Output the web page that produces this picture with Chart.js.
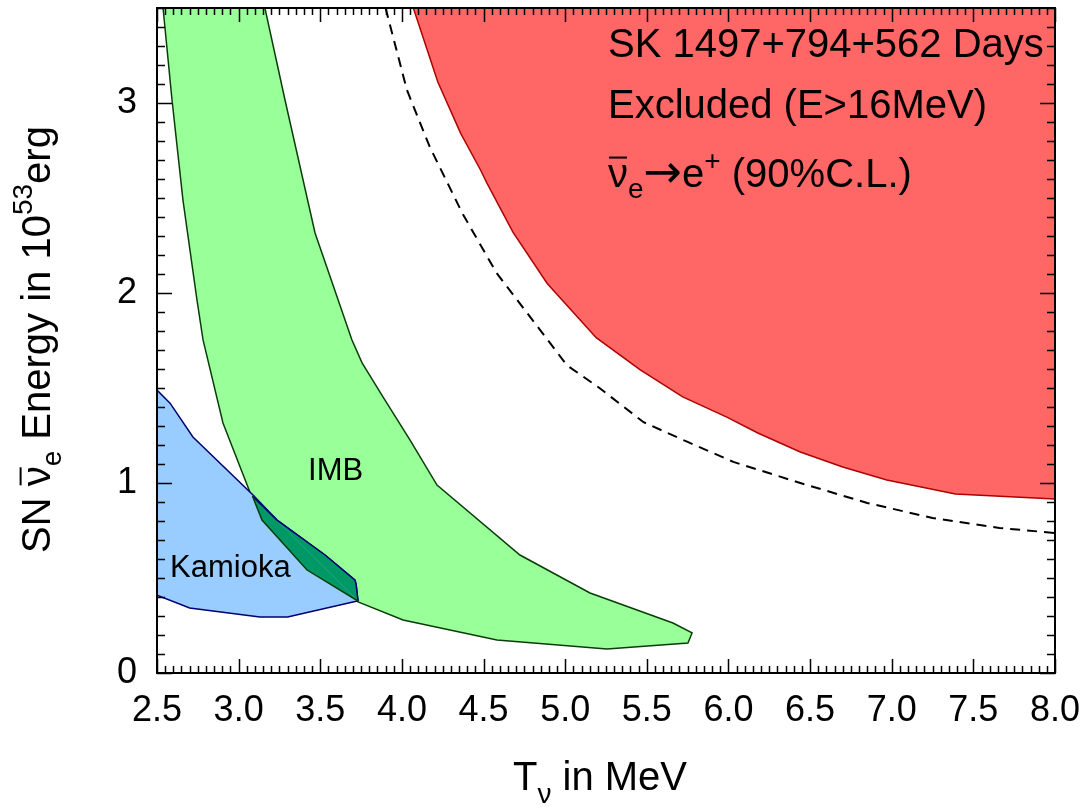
<!DOCTYPE html>
<html>
<head>
<meta charset="utf-8">
<script src="https://cdn.jsdelivr.net/npm/chart.js@4.4.1/dist/chart.umd.min.js"></script>
<style>
  html, body { margin: 0; padding: 0; background: #fff; }
  canvas { display: block; }
</style>
</head>
<body>
<canvas id="chart" width="1086" height="810"></canvas>
<script>
const FONT = "'Liberation Sans', Arial, Helvetica, sans-serif";

// tick labels
const xTicks = [2.5, 3.0, 3.5, 4.0, 4.5, 5.0, 5.5, 6.0, 6.5, 7.0, 7.5, 8.0];
const yTicks = [0, 1, 2, 3];

// SK excluded region boundary (filled up to the top)
const skT = [4.07, 4.22, 4.36, 4.48, 4.52, 4.68, 4.89, 5.19, 5.46, 5.72, 5.99, 6.18, 6.44, 6.70, 6.97, 7.39, 8.0];
const skE = [3.50, 3.11, 2.84, 2.65, 2.58, 2.32, 2.05, 1.765, 1.595, 1.453, 1.347, 1.263, 1.163, 1.084, 1.016, 0.942, 0.916];

// dashed curve
const dashT = [3.90, 4.03, 4.17, 4.37, 4.58, 4.86, 5.01, 5.21, 5.48, 5.75, 6.03, 6.44, 6.85, 7.25, 7.66, 8.0];
const dashE = [3.50, 3.07, 2.77, 2.42, 2.105, 1.79, 1.62, 1.50, 1.32, 1.216, 1.111, 1.0, 0.895, 0.816, 0.763, 0.737];

// IMB contour (closed)
const imbT = [2.537, 2.592, 2.659, 2.745, 2.782, 2.904, 3.088, 3.143, 3.419, 3.731, 4.007, 4.582, 5.256, 5.752, 5.777, 5.660, 5.152, 4.723, 4.215, 4.050, 3.884, 3.756, 3.694, 3.468, 3.284, 3.161, 2.537];
const imbE = [3.50, 3.016, 2.489, 1.963, 1.753, 1.316, 0.911, 0.805, 0.542, 0.374, 0.279, 0.174, 0.126, 0.158, 0.211, 0.263, 0.421, 0.621, 0.989, 1.226, 1.453, 1.632, 1.753, 2.316, 3.016, 3.50, 3.50];

// Kamioka contour (closed)
const kamT = [2.50, 2.58, 2.72, 3.088, 3.235, 3.529, 3.713, 3.72, 3.731, 3.70, 3.30, 3.13, 2.70, 2.50, 2.50];
const kamE = [1.489, 1.42, 1.242, 0.937, 0.805, 0.621, 0.489, 0.463, 0.379, 0.374, 0.295, 0.295, 0.342, 0.41, 1.489];

// overlap of both contours
const ovT = [3.085, 3.235, 3.529, 3.713, 3.72, 3.731, 3.419, 3.143, 3.085];
const ovE = [0.93, 0.805, 0.621, 0.489, 0.463, 0.379, 0.542, 0.805, 0.93];

const toPts = (xs, ys) => xs.map((x, i) => ({x: x, y: ys[i]}));

// draws a run of text pieces (sub/superscripts, overlined nu)
function richText(ctx, x, y, parts, base) {
    let cx = x;
    for (const p of parts) {
        const size = base * (p.scale || 1);
        ctx.font = size + 'px ' + (p.font || FONT);
        const w = ctx.measureText(p.t).width;
        ctx.fillText(p.t, cx, y + (p.dy || 0) * base);
        if (p.bar) {
            ctx.fillRect(cx + 1, y - 0.76 * base, w - 2, 2);
        }
        cx += w;
    }
}

const frameTicks = {
    id: 'frameTicks',
    afterDatasetsDraw(chart) {
        const {ctx, chartArea: a, scales: {x, y}} = chart;
        ctx.save();
        ctx.strokeStyle = '#000';
        ctx.lineWidth = 1.5;
        ctx.beginPath();
        for (let i = 0; i <= 110; i++) {
            const px = Math.round(x.getPixelForValue(2.5 + i * 0.05)) + 0.5;
            const len = i % 10 === 0 ? 14 : 7;
            ctx.moveTo(px, a.bottom); ctx.lineTo(px, a.bottom - len);
            ctx.moveTo(px, a.top); ctx.lineTo(px, a.top + len);
        }
        for (let i = 0; i <= 35; i++) {
            const py = Math.round(y.getPixelForValue(i * 0.1)) + 0.5;
            const len = i % 10 === 0 ? 15 : 8;
            ctx.moveTo(a.left, py); ctx.lineTo(a.left + len, py);
            ctx.moveTo(a.right, py); ctx.lineTo(a.right - len, py);
        }
        ctx.stroke();
        ctx.lineWidth = 2;
        ctx.strokeRect(a.left, a.top, a.right - a.left, a.bottom - a.top);
        ctx.restore();
    }
};

const labels = {
    id: 'labels',
    afterDraw(chart) {
        const {ctx, scales: {x, y}} = chart;
        ctx.save();
        ctx.fillStyle = '#000';
        ctx.textBaseline = 'alphabetic';
        ctx.textAlign = 'left';

        // contour names
        ctx.font = '31px ' + FONT;
        ctx.fillText('IMB', x.getPixelForValue(3.425), y.getPixelForValue(1.016));
        ctx.fillText('Kamioka', x.getPixelForValue(2.58), y.getPixelForValue(0.505));

        // SK annotation
        const ax = x.getPixelForValue(5.262);
        richText(ctx, ax, y.getPixelForValue(3.242), [{t: 'SK 1497+794+562 Days'}], 40);
        richText(ctx, ax, y.getPixelForValue(2.921), [{t: 'Excluded (E>16MeV)'}], 40);
        richText(ctx, ax, y.getPixelForValue(2.558), [
            {t: 'ν', bar: true},
            {t: 'e', scale: 0.7, dy: 0.28},
            {t: '→', font: "'DejaVu Sans', sans-serif", scale: 1.15},
            {t: 'e'},
            {t: '+', scale: 0.7, dy: -0.42},
            {t: ' (90%C.L.)'}
        ], 40);

        // x title
        richText(ctx, 513, 790, [
            {t: 'T'},
            {t: 'ν', scale: 0.7, dy: 0.32},
            {t: ' in MeV'}
        ], 40);

        // y title
        ctx.translate(50, 553);
        ctx.rotate(-Math.PI / 2);
        richText(ctx, 0, 0, [
            {t: 'SN '},
            {t: 'ν', bar: true},
            {t: 'e', scale: 0.7, dy: 0.28},
            {t: ' Energy in 10'},
            {t: '53', scale: 0.7, dy: -0.45},
            {t: 'erg'}
        ], 40);
        ctx.restore();
    }
};

const line = {pointRadius: 0, tension: 0, borderWidth: 1.5};

new Chart(document.getElementById('chart').getContext('2d'), {
    type: 'line',
    data: {
        datasets: [
            {...line, label: 'SK excluded', data: toPts(skT, skE), fill: 'end',
                backgroundColor: '#ff6666', borderColor: '#b00000', order: 5},
            {...line, label: 'dashed', data: toPts(dashT, dashE), fill: false,
                borderColor: '#000', borderDash: [10, 7], borderWidth: 2, order: 4},
            {...line, label: 'IMB', data: toPts(imbT, imbE), fill: 'shape',
                backgroundColor: '#99ff99', borderColor: '#0a3d0a', order: 3},
            {...line, label: 'Kamioka', data: toPts(kamT, kamE), fill: 'shape',
                backgroundColor: '#99ccff', borderColor: '#00006e', order: 2},
            {...line, label: 'overlap', data: toPts(ovT, ovE), fill: 'shape',
                backgroundColor: '#009966', order: 1,
                segment: {borderColor: c => c.p0DataIndex < 5 ? '#00006e' : '#0a3d0a'}}
        ]
    },
    options: {
        responsive: false,
        animation: false,
        devicePixelRatio: 1,
        layout: {padding: {left: 0, top: 8, right: 31, bottom: 0}},
        plugins: {legend: {display: false}, tooltip: {enabled: false}},
        scales: {
            x: {
                type: 'linear', min: 2.5, max: 8.0,
                afterBuildTicks: s => { s.ticks = xTicks.map(v => ({value: v})); },
                afterFit: s => { s.height = 137; s.paddingLeft = 0; s.paddingRight = 0; },
                grid: {display: false, drawTicks: false},
                border: {display: false},
                ticks: {
                    autoSkip: false, maxRotation: 0, padding: 16, color: '#000',
                    font: {family: FONT, size: 36},
                    callback: v => Number(v).toFixed(1)
                }
            },
            y: {
                type: 'linear', min: 0, max: 3.5,
                afterBuildTicks: s => { s.ticks = yTicks.map(v => ({value: v})); },
                afterFit: s => { s.width = 157; s.paddingTop = 0; s.paddingBottom = 0; },
                grid: {display: false, drawTicks: false},
                border: {display: false},
                ticks: {
                    padding: 20, color: '#000',
                    font: {family: FONT, size: 36},
                    callback: v => String(v)
                }
            }
        }
    },
    plugins: [frameTicks, labels]
});
</script>
</body>
</html>
